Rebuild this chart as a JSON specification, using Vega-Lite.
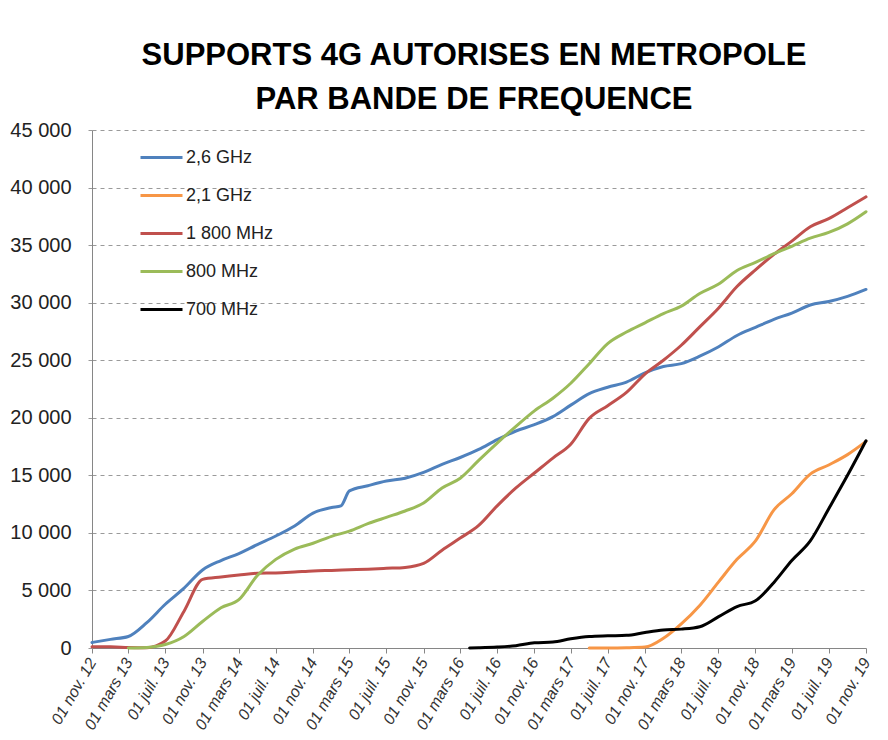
{
  "$schema": "https://vega.github.io/schema/vega-lite/v6.json",
  "width": 774,
  "height": 518,
  "autosize": {"type": "none"},
  "padding": {"left": 92, "top": 130, "right": 22, "bottom": 92},
  "background": "#ffffff",
  "title": {
    "text": ["SUPPORTS 4G AUTORISES EN METROPOLE", "PAR BANDE DE FREQUENCE"],
    "anchor": "middle",
    "font": "Liberation Sans",
    "fontSize": 31,
    "fontWeight": "bold",
    "lineHeight": 44,
    "color": "#000000",
    "offset": 4,
    "dx": -5
  },
  "data": {
    "values": [
      {"date": "2012-11-01", "bande": "2,6 GHz", "supports": 480},
      {"date": "2013-01-01", "bande": "2,6 GHz", "supports": 750},
      {"date": "2013-03-01", "bande": "2,6 GHz", "supports": 1000},
      {"date": "2013-05-01", "bande": "2,6 GHz", "supports": 2200},
      {"date": "2013-07-01", "bande": "2,6 GHz", "supports": 3800},
      {"date": "2013-09-01", "bande": "2,6 GHz", "supports": 5200},
      {"date": "2013-11-01", "bande": "2,6 GHz", "supports": 6780},
      {"date": "2014-01-01", "bande": "2,6 GHz", "supports": 7600},
      {"date": "2014-03-01", "bande": "2,6 GHz", "supports": 8200},
      {"date": "2014-05-01", "bande": "2,6 GHz", "supports": 8980},
      {"date": "2014-07-01", "bande": "2,6 GHz", "supports": 9730},
      {"date": "2014-09-01", "bande": "2,6 GHz", "supports": 10600},
      {"date": "2014-11-01", "bande": "2,6 GHz", "supports": 11720},
      {"date": "2015-01-01", "bande": "2,6 GHz", "supports": 12200},
      {"date": "2015-02-01", "bande": "2,6 GHz", "supports": 12350},
      {"date": "2015-03-01", "bande": "2,6 GHz", "supports": 13650},
      {"date": "2015-05-01", "bande": "2,6 GHz", "supports": 14100},
      {"date": "2015-07-01", "bande": "2,6 GHz", "supports": 14500},
      {"date": "2015-09-01", "bande": "2,6 GHz", "supports": 14750},
      {"date": "2015-11-01", "bande": "2,6 GHz", "supports": 15250},
      {"date": "2016-01-01", "bande": "2,6 GHz", "supports": 15950},
      {"date": "2016-03-01", "bande": "2,6 GHz", "supports": 16550},
      {"date": "2016-05-01", "bande": "2,6 GHz", "supports": 17250},
      {"date": "2016-07-01", "bande": "2,6 GHz", "supports": 18100},
      {"date": "2016-09-01", "bande": "2,6 GHz", "supports": 18850},
      {"date": "2016-11-01", "bande": "2,6 GHz", "supports": 19400},
      {"date": "2017-01-01", "bande": "2,6 GHz", "supports": 20100},
      {"date": "2017-03-01", "bande": "2,6 GHz", "supports": 21100},
      {"date": "2017-05-01", "bande": "2,6 GHz", "supports": 22100},
      {"date": "2017-07-01", "bande": "2,6 GHz", "supports": 22650},
      {"date": "2017-09-01", "bande": "2,6 GHz", "supports": 23100},
      {"date": "2017-11-01", "bande": "2,6 GHz", "supports": 23900},
      {"date": "2018-01-01", "bande": "2,6 GHz", "supports": 24450},
      {"date": "2018-03-01", "bande": "2,6 GHz", "supports": 24700},
      {"date": "2018-05-01", "bande": "2,6 GHz", "supports": 25350},
      {"date": "2018-07-01", "bande": "2,6 GHz", "supports": 26150},
      {"date": "2018-09-01", "bande": "2,6 GHz", "supports": 27150},
      {"date": "2018-11-01", "bande": "2,6 GHz", "supports": 27850},
      {"date": "2019-01-01", "bande": "2,6 GHz", "supports": 28550},
      {"date": "2019-03-01", "bande": "2,6 GHz", "supports": 29100},
      {"date": "2019-05-01", "bande": "2,6 GHz", "supports": 29800},
      {"date": "2019-07-01", "bande": "2,6 GHz", "supports": 30100},
      {"date": "2019-09-01", "bande": "2,6 GHz", "supports": 30550},
      {"date": "2019-11-01", "bande": "2,6 GHz", "supports": 31150},

      {"date": "2017-05-01", "bande": "2,1 GHz", "supports": 0},
      {"date": "2017-07-01", "bande": "2,1 GHz", "supports": 0},
      {"date": "2017-09-01", "bande": "2,1 GHz", "supports": 20},
      {"date": "2017-11-01", "bande": "2,1 GHz", "supports": 80},
      {"date": "2018-01-01", "bande": "2,1 GHz", "supports": 850},
      {"date": "2018-03-01", "bande": "2,1 GHz", "supports": 2100},
      {"date": "2018-05-01", "bande": "2,1 GHz", "supports": 3700},
      {"date": "2018-07-01", "bande": "2,1 GHz", "supports": 5700},
      {"date": "2018-09-01", "bande": "2,1 GHz", "supports": 7700},
      {"date": "2018-11-01", "bande": "2,1 GHz", "supports": 9300},
      {"date": "2019-01-01", "bande": "2,1 GHz", "supports": 12000},
      {"date": "2019-03-01", "bande": "2,1 GHz", "supports": 13400},
      {"date": "2019-05-01", "bande": "2,1 GHz", "supports": 15100},
      {"date": "2019-07-01", "bande": "2,1 GHz", "supports": 15900},
      {"date": "2019-09-01", "bande": "2,1 GHz", "supports": 16800},
      {"date": "2019-11-01", "bande": "2,1 GHz", "supports": 17950},

      {"date": "2012-11-01", "bande": "1 800 MHz", "supports": 100},
      {"date": "2013-01-01", "bande": "1 800 MHz", "supports": 100},
      {"date": "2013-03-01", "bande": "1 800 MHz", "supports": 50},
      {"date": "2013-05-01", "bande": "1 800 MHz", "supports": 30},
      {"date": "2013-07-01", "bande": "1 800 MHz", "supports": 600},
      {"date": "2013-09-01", "bande": "1 800 MHz", "supports": 3200},
      {"date": "2013-11-01", "bande": "1 800 MHz", "supports": 5960},
      {"date": "2014-01-01", "bande": "1 800 MHz", "supports": 6170},
      {"date": "2014-03-01", "bande": "1 800 MHz", "supports": 6340},
      {"date": "2014-05-01", "bande": "1 800 MHz", "supports": 6490},
      {"date": "2014-07-01", "bande": "1 800 MHz", "supports": 6520},
      {"date": "2014-09-01", "bande": "1 800 MHz", "supports": 6600},
      {"date": "2014-11-01", "bande": "1 800 MHz", "supports": 6690},
      {"date": "2015-01-01", "bande": "1 800 MHz", "supports": 6740},
      {"date": "2015-03-01", "bande": "1 800 MHz", "supports": 6790},
      {"date": "2015-05-01", "bande": "1 800 MHz", "supports": 6850},
      {"date": "2015-07-01", "bande": "1 800 MHz", "supports": 6920},
      {"date": "2015-09-01", "bande": "1 800 MHz", "supports": 7000},
      {"date": "2015-11-01", "bande": "1 800 MHz", "supports": 7350},
      {"date": "2016-01-01", "bande": "1 800 MHz", "supports": 8500},
      {"date": "2016-03-01", "bande": "1 800 MHz", "supports": 9550},
      {"date": "2016-05-01", "bande": "1 800 MHz", "supports": 10650},
      {"date": "2016-07-01", "bande": "1 800 MHz", "supports": 12350},
      {"date": "2016-09-01", "bande": "1 800 MHz", "supports": 13900},
      {"date": "2016-11-01", "bande": "1 800 MHz", "supports": 15200},
      {"date": "2017-01-01", "bande": "1 800 MHz", "supports": 16500},
      {"date": "2017-03-01", "bande": "1 800 MHz", "supports": 17700},
      {"date": "2017-05-01", "bande": "1 800 MHz", "supports": 19950},
      {"date": "2017-07-01", "bande": "1 800 MHz", "supports": 21050},
      {"date": "2017-09-01", "bande": "1 800 MHz", "supports": 22200},
      {"date": "2017-11-01", "bande": "1 800 MHz", "supports": 23800},
      {"date": "2018-01-01", "bande": "1 800 MHz", "supports": 25000},
      {"date": "2018-03-01", "bande": "1 800 MHz", "supports": 26300},
      {"date": "2018-05-01", "bande": "1 800 MHz", "supports": 27900},
      {"date": "2018-07-01", "bande": "1 800 MHz", "supports": 29500},
      {"date": "2018-09-01", "bande": "1 800 MHz", "supports": 31400},
      {"date": "2018-11-01", "bande": "1 800 MHz", "supports": 32850},
      {"date": "2019-01-01", "bande": "1 800 MHz", "supports": 34200},
      {"date": "2019-03-01", "bande": "1 800 MHz", "supports": 35350},
      {"date": "2019-05-01", "bande": "1 800 MHz", "supports": 36600},
      {"date": "2019-07-01", "bande": "1 800 MHz", "supports": 37300},
      {"date": "2019-09-01", "bande": "1 800 MHz", "supports": 38250},
      {"date": "2019-11-01", "bande": "1 800 MHz", "supports": 39200},

      {"date": "2013-03-01", "bande": "800 MHz", "supports": 0},
      {"date": "2013-05-01", "bande": "800 MHz", "supports": 50},
      {"date": "2013-07-01", "bande": "800 MHz", "supports": 300},
      {"date": "2013-09-01", "bande": "800 MHz", "supports": 1000},
      {"date": "2013-11-01", "bande": "800 MHz", "supports": 2300},
      {"date": "2014-01-01", "bande": "800 MHz", "supports": 3500},
      {"date": "2014-03-01", "bande": "800 MHz", "supports": 4200},
      {"date": "2014-05-01", "bande": "800 MHz", "supports": 6300},
      {"date": "2014-07-01", "bande": "800 MHz", "supports": 7700},
      {"date": "2014-09-01", "bande": "800 MHz", "supports": 8600},
      {"date": "2014-11-01", "bande": "800 MHz", "supports": 9100},
      {"date": "2015-01-01", "bande": "800 MHz", "supports": 9700},
      {"date": "2015-03-01", "bande": "800 MHz", "supports": 10150},
      {"date": "2015-05-01", "bande": "800 MHz", "supports": 10800},
      {"date": "2015-07-01", "bande": "800 MHz", "supports": 11350},
      {"date": "2015-09-01", "bande": "800 MHz", "supports": 11900},
      {"date": "2015-11-01", "bande": "800 MHz", "supports": 12600},
      {"date": "2016-01-01", "bande": "800 MHz", "supports": 13900},
      {"date": "2016-03-01", "bande": "800 MHz", "supports": 14750},
      {"date": "2016-05-01", "bande": "800 MHz", "supports": 16300},
      {"date": "2016-07-01", "bande": "800 MHz", "supports": 17800},
      {"date": "2016-09-01", "bande": "800 MHz", "supports": 19250},
      {"date": "2016-11-01", "bande": "800 MHz", "supports": 20600},
      {"date": "2017-01-01", "bande": "800 MHz", "supports": 21700},
      {"date": "2017-03-01", "bande": "800 MHz", "supports": 23000},
      {"date": "2017-05-01", "bande": "800 MHz", "supports": 24700},
      {"date": "2017-07-01", "bande": "800 MHz", "supports": 26450},
      {"date": "2017-09-01", "bande": "800 MHz", "supports": 27450},
      {"date": "2017-11-01", "bande": "800 MHz", "supports": 28250},
      {"date": "2018-01-01", "bande": "800 MHz", "supports": 29050},
      {"date": "2018-03-01", "bande": "800 MHz", "supports": 29700},
      {"date": "2018-05-01", "bande": "800 MHz", "supports": 30800},
      {"date": "2018-07-01", "bande": "800 MHz", "supports": 31600},
      {"date": "2018-09-01", "bande": "800 MHz", "supports": 32800},
      {"date": "2018-11-01", "bande": "800 MHz", "supports": 33500},
      {"date": "2019-01-01", "bande": "800 MHz", "supports": 34250},
      {"date": "2019-03-01", "bande": "800 MHz", "supports": 34900},
      {"date": "2019-05-01", "bande": "800 MHz", "supports": 35600},
      {"date": "2019-07-01", "bande": "800 MHz", "supports": 36100},
      {"date": "2019-09-01", "bande": "800 MHz", "supports": 36850},
      {"date": "2019-11-01", "bande": "800 MHz", "supports": 37900},

      {"date": "2016-04-01", "bande": "700 MHz", "supports": 0},
      {"date": "2016-05-01", "bande": "700 MHz", "supports": 20},
      {"date": "2016-07-01", "bande": "700 MHz", "supports": 80},
      {"date": "2016-09-01", "bande": "700 MHz", "supports": 200},
      {"date": "2016-11-01", "bande": "700 MHz", "supports": 450},
      {"date": "2017-01-01", "bande": "700 MHz", "supports": 520},
      {"date": "2017-03-01", "bande": "700 MHz", "supports": 800},
      {"date": "2017-05-01", "bande": "700 MHz", "supports": 1000},
      {"date": "2017-07-01", "bande": "700 MHz", "supports": 1060},
      {"date": "2017-09-01", "bande": "700 MHz", "supports": 1100},
      {"date": "2017-11-01", "bande": "700 MHz", "supports": 1350},
      {"date": "2018-01-01", "bande": "700 MHz", "supports": 1560},
      {"date": "2018-03-01", "bande": "700 MHz", "supports": 1640},
      {"date": "2018-05-01", "bande": "700 MHz", "supports": 1850},
      {"date": "2018-07-01", "bande": "700 MHz", "supports": 2700},
      {"date": "2018-09-01", "bande": "700 MHz", "supports": 3600},
      {"date": "2018-11-01", "bande": "700 MHz", "supports": 4100},
      {"date": "2019-01-01", "bande": "700 MHz", "supports": 5700},
      {"date": "2019-03-01", "bande": "700 MHz", "supports": 7600},
      {"date": "2019-05-01", "bande": "700 MHz", "supports": 9300},
      {"date": "2019-07-01", "bande": "700 MHz", "supports": 12100},
      {"date": "2019-09-01", "bande": "700 MHz", "supports": 15000},
      {"date": "2019-11-01", "bande": "700 MHz", "supports": 18000}
    ]
  },
  "mark": {"type": "line", "interpolate": "monotone", "strokeJoin": "round", "strokeCap": "round"},
  "encoding": {
    "x": {
      "field": "date",
      "type": "temporal",
      "scale": {
        "type": "utc",
        "domain": [
          {"year": 2012, "month": 11, "date": 1, "utc": true},
          {"year": 2019, "month": 11, "date": 1, "utc": true}
        ]
      },
      "axis": {
        "title": null,
        "values": [
          {"year": 2012, "month": 11, "date": 1, "utc": true},
          {"year": 2013, "month": 3, "date": 1, "utc": true},
          {"year": 2013, "month": 7, "date": 1, "utc": true},
          {"year": 2013, "month": 11, "date": 1, "utc": true},
          {"year": 2014, "month": 3, "date": 1, "utc": true},
          {"year": 2014, "month": 7, "date": 1, "utc": true},
          {"year": 2014, "month": 11, "date": 1, "utc": true},
          {"year": 2015, "month": 3, "date": 1, "utc": true},
          {"year": 2015, "month": 7, "date": 1, "utc": true},
          {"year": 2015, "month": 11, "date": 1, "utc": true},
          {"year": 2016, "month": 3, "date": 1, "utc": true},
          {"year": 2016, "month": 7, "date": 1, "utc": true},
          {"year": 2016, "month": 11, "date": 1, "utc": true},
          {"year": 2017, "month": 3, "date": 1, "utc": true},
          {"year": 2017, "month": 7, "date": 1, "utc": true},
          {"year": 2017, "month": 11, "date": 1, "utc": true},
          {"year": 2018, "month": 3, "date": 1, "utc": true},
          {"year": 2018, "month": 7, "date": 1, "utc": true},
          {"year": 2018, "month": 11, "date": 1, "utc": true},
          {"year": 2019, "month": 3, "date": 1, "utc": true},
          {"year": 2019, "month": 7, "date": 1, "utc": true},
          {"year": 2019, "month": 11, "date": 1, "utc": true}
        ],
        "labelExpr": "'01 ' + (utcmonth(datum.value) == 10 ? 'nov.' : utcmonth(datum.value) == 2 ? 'mars' : 'juil.') + ' ' + utcFormat(datum.value, '%y')",
        "labelAngle": -60,
        "labelAlign": "right",
        "labelBaseline": "middle",
        "labelPadding": 6,
        "labelFont": "Liberation Sans",
        "labelFontSize": 16,
        "labelFontStyle": "italic",
        "labelColor": "#333333",
        "labelOverlap": false,
        "labelBound": false,
        "labelFlush": false,
        "grid": false,
        "domainColor": "#868686",
        "domainWidth": 1,
        "tickColor": "#868686",
        "tickSize": 5
      }
    },
    "y": {
      "field": "supports",
      "type": "quantitative",
      "scale": {"domain": [0, 45000], "nice": false},
      "axis": {
        "title": null,
        "values": [0, 5000, 10000, 15000, 20000, 25000, 30000, 35000, 40000, 45000],
        "labelExpr": "replace(format(datum.value, ','), ',', ' ')",
        "labelFont": "Liberation Sans",
        "labelFontSize": 20,
        "labelColor": "#222222",
        "labelPadding": 15,
        "grid": true,
        "gridColor": "#9a9a9a",
        "gridDash": [4, 4],
        "gridWidth": 1,
        "domainColor": "#868686",
        "domainWidth": 1,
        "tickColor": "#9a9a9a",
        "tickSize": 6,
        "tickDash": [4, 4]
      }
    },
    "color": {
      "field": "bande",
      "type": "nominal",
      "scale": {
        "domain": ["2,6 GHz", "2,1 GHz", "1 800 MHz", "800 MHz", "700 MHz"],
        "range": ["#4F81BD", "#F79646", "#C0504D", "#9BBB59", "#000000"]
      },
      "legend": {
        "title": null,
        "orient": "none",
        "legendX": 47,
        "legendY": 5,
        "direction": "vertical",
        "symbolType": "stroke",
        "symbolSize": 1764,
        "symbolStrokeWidth": 3,
        "labelFont": "Liberation Sans",
        "labelFontSize": 18,
        "labelColor": "#222222",
        "labelOffset": 2,
        "rowPadding": 6,
        "padding": 0
      }
    },
    "strokeWidth": {
      "field": "bande",
      "type": "nominal",
      "scale": {
        "domain": ["2,6 GHz", "2,1 GHz", "1 800 MHz", "800 MHz", "700 MHz"],
        "range": [3, 3, 3, 3, 4]
      },
      "legend": null
    }
  },
  "config": {
    "view": {"stroke": null}
  }
}
